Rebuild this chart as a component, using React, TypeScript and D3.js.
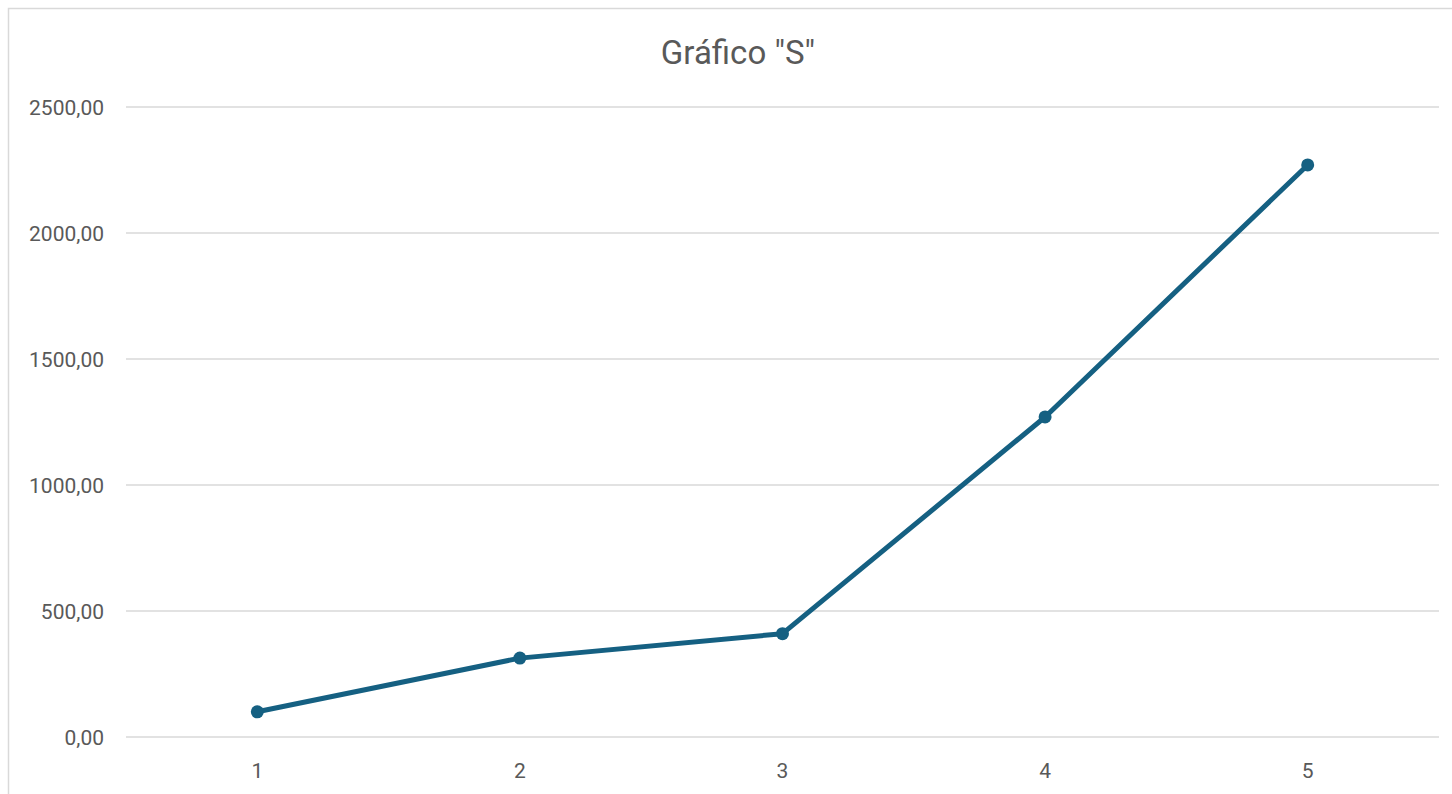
import React from "react";
import * as d3 from "d3";

const categories = ["1", "2", "3", "4", "5"];
const values = [100, 313, 410, 1270, 2270];
const yTicks = [0, 500, 1000, 1500, 2000, 2500];
const title = 'Gráfico "S"';

const W = 1452;
const H = 794;
const plotLeft = 126;
const plotRight = 1439;
const plotTop = 107;
const plotBottom = 737;
const color = "#156082";
const font = "Roboto, 'Noto Sans', sans-serif";

export default function App() {
  const x = d3.scaleBand<string>().domain(categories).range([plotLeft, plotRight]);
  const y = d3.scaleLinear().domain([0, 2500]).range([plotBottom, plotTop]);
  const fmt = (v: number) => d3.format(".2f")(v).replace(".", ",");
  const cx = (c: string) => (x(c) as number) + x.bandwidth() / 2;
  const line = d3
    .line<number>()
    .x((_, i) => cx(categories[i]))
    .y((d) => y(d));

  return (
    <svg
      width={W}
      height={H}
      style={{ position: "absolute", left: 0, top: 0, background: "#fff" }}
    >
      <rect x={8.5} y={8.5} width={W} height={H} fill="#fff" stroke="#d9d9d9" strokeWidth={1.5} />
      <text x={738} y={64} textAnchor="middle" fontFamily={font} fontSize={33} fill="#595959">
        {title}
      </text>
      {yTicks.map((t) => (
        <g key={t}>
          <line x1={plotLeft} x2={plotRight} y1={y(t)} y2={y(t)} stroke="#d9d9d9" strokeWidth={1.5} />
          <text
            x={104}
            y={y(t)}
            dy="0.36em"
            textAnchor="end"
            fontFamily={font}
            fontSize={21}
            fill="#595959"
          >
            {fmt(t)}
          </text>
        </g>
      ))}
      {categories.map((c) => (
        <text
          key={c}
          x={cx(c)}
          y={778}
          textAnchor="middle"
          fontFamily={font}
          fontSize={21}
          fill="#595959"
        >
          {c}
        </text>
      ))}
      <path d={line(values) || ""} fill="none" stroke={color} strokeWidth={5} strokeLinejoin="round" strokeLinecap="round" />
      {values.map((v, i) => (
        <circle key={i} cx={cx(categories[i])} cy={y(v)} r={6.5} fill={color} />
      ))}
    </svg>
  );
}
